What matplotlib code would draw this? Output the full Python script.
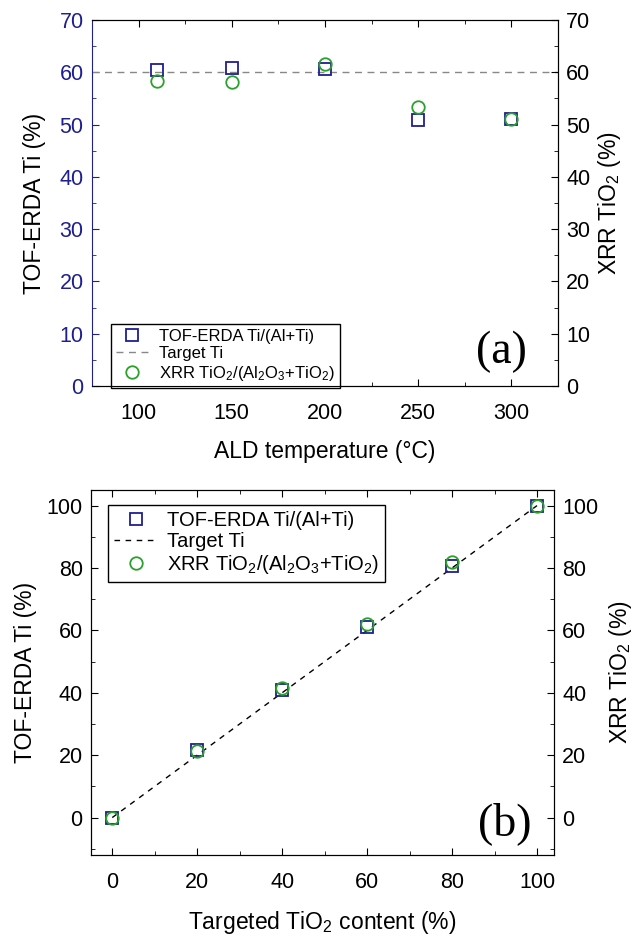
import matplotlib
matplotlib.use("Agg")
import matplotlib.pyplot as plt
from matplotlib.ticker import MultipleLocator

plt.rcParams["font.family"] = ["Liberation Sans", "DejaVu Sans"]
plt.rcParams["mathtext.fontset"] = "custom"
plt.rcParams["mathtext.rm"] = "Liberation Sans"
plt.rcParams["mathtext.it"] = "Liberation Sans"

# ---------------------------------------------------------------------------
# Data
# ---------------------------------------------------------------------------

# (a) ALD temperature series
temps = [110, 150, 200, 250, 300]
erda_a = [60.5, 60.8, 60.7, 50.9, 51.0]
xrr_a = [58.3, 58.1, 61.6, 53.3, 51.0]
target_a = 60.0

# (b) targeted TiO2 content series
targeted = [0, 20, 40, 60, 80, 100]
erda_b = [0.0, 21.5, 41.0, 61.0, 80.5, 100.0]
xrr_b = [0.0, 21.2, 41.5, 62.0, 82.0, 100.0]
target_line_x = [0, 100]
target_line_y = [0, 100]

NAVY = "#1f1f8f"
GREEN = "#2ca02c"

lbl_erda = "TOF-ERDA Ti/(Al+Ti)"
lbl_target = "Target Ti"
lbl_xrr = r"XRR TiO$_2$/(Al$_2$O$_3$+TiO$_2$)"

W, H = 640, 943
fig = plt.figure(figsize=(W / 100, H / 100), dpi=100)


def box(left, top, right, bottom):
    return [left / W, 1 - bottom / H, (right - left) / W, (bottom - top) / H]


def style_ticks(ax):
    ax.tick_params(which="both", direction="in", labelsize=15.5)
    ax.tick_params(which="major", length=5)
    ax.tick_params(which="minor", length=3)
    ax.tick_params(axis="x", pad=12)
    ax.tick_params(axis="y", pad=6)


# ---------------------------------------------------------------------------
# Panel (a)
# ---------------------------------------------------------------------------
ax1 = fig.add_axes(box(92, 20, 558, 386))
ax1.plot(temps, erda_a, "s", mfc="none", mec=NAVY, ms=9, mew=1.3, label=lbl_erda, zorder=3)
ax1.axhline(target_a, color="#888888", ls=(0, (5, 4)), lw=1.0, label=lbl_target)
ax1.plot(temps, xrr_a, "o", mfc="none", mec=GREEN, ms=9, mew=1.3, label=lbl_xrr, zorder=3)
ax1.set_xlim(75, 325)
ax1.set_ylim(0, 70)
ax1.xaxis.set_major_locator(MultipleLocator(50))
ax1.xaxis.set_minor_locator(MultipleLocator(25))
ax1.yaxis.set_major_locator(MultipleLocator(10))
ax1.yaxis.set_minor_locator(MultipleLocator(5))
style_ticks(ax1)
ax1.tick_params(axis="x", which="both", top=True)
ax1.tick_params(axis="y", colors=NAVY, which="both")
ax1.spines["left"].set_color(NAVY)
ax1.set_xlabel("ALD temperature (°C)", fontsize=16.5, labelpad=12)
ax1.set_ylabel("TOF-ERDA Ti (%)", fontsize=16.5, labelpad=10)

ax1r = ax1.twinx()
ax1r.set_ylim(0, 70)
ax1r.yaxis.set_major_locator(MultipleLocator(10))
ax1r.yaxis.set_minor_locator(MultipleLocator(5))
style_ticks(ax1r)
ax1r.spines["left"].set_visible(False)
ax1r.set_ylabel(r"XRR TiO$_2$ (%)", fontsize=16.5, labelpad=4)

ax1.legend(loc="lower left", bbox_to_anchor=(0.04, -0.005), fontsize=12,
           frameon=True, fancybox=False, edgecolor="black", framealpha=1,
           handlelength=2.0, handletextpad=0.6, labelspacing=0.15,
           borderpad=0.3, borderaxespad=0)
ax1.text(0.878, 0.093, "(a)", transform=ax1.transAxes, fontsize=33,
         family="Liberation Serif", ha="center", va="center")

# ---------------------------------------------------------------------------
# Panel (b)
# ---------------------------------------------------------------------------
ax2 = fig.add_axes(box(91, 490, 554, 855))
ax2.plot(targeted, erda_b, "s", mfc="none", mec=NAVY, ms=9, mew=1.3, label=lbl_erda, zorder=3)
ax2.plot(target_line_x, target_line_y, color="black", ls=(0, (4, 4)), lw=1.0, label=lbl_target)
ax2.plot(targeted, xrr_b, "o", mfc="none", mec=GREEN, ms=9, mew=1.3, label=lbl_xrr, zorder=3)
ax2.set_xlim(-5, 104)
ax2.set_ylim(-12, 105)
ax2.xaxis.set_major_locator(MultipleLocator(20))
ax2.xaxis.set_minor_locator(MultipleLocator(10))
ax2.yaxis.set_major_locator(MultipleLocator(20))
ax2.yaxis.set_minor_locator(MultipleLocator(10))
style_ticks(ax2)
ax2.tick_params(axis="x", which="both", top=True)
ax2.set_xlabel(r"Targeted TiO$_2$ content (%)", fontsize=16.5, labelpad=12)
ax2.set_ylabel("TOF-ERDA Ti (%)", fontsize=16.5, labelpad=7)

ax2r = ax2.twinx()
ax2r.set_ylim(-12, 105)
ax2r.yaxis.set_major_locator(MultipleLocator(20))
ax2r.yaxis.set_minor_locator(MultipleLocator(10))
style_ticks(ax2r)
ax2r.set_ylabel(r"XRR TiO$_2$ (%)", fontsize=16.5, labelpad=6)

ax2.legend(loc="upper left", bbox_to_anchor=(0.037, 0.96), fontsize=14.5,
           frameon=True, fancybox=False, edgecolor="black", framealpha=1,
           handlelength=2.2, handletextpad=0.4, labelspacing=0.1,
           borderpad=0.3, borderaxespad=0)
ax2.text(0.894, 0.085, "(b)", transform=ax2.transAxes, fontsize=33,
         family="Liberation Serif", ha="center", va="center")

fig.savefig("out.png", dpi=100)
